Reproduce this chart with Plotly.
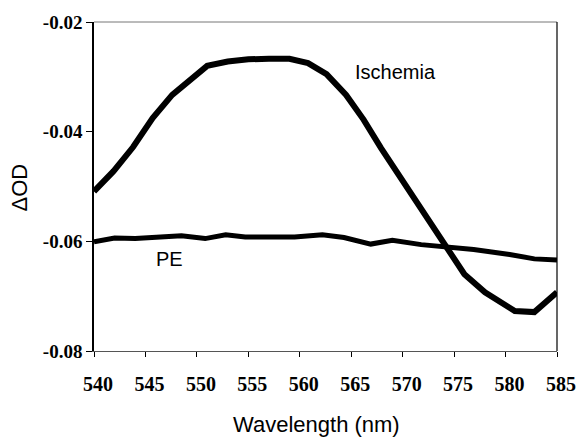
import plotly.graph_objects as go

# Difference spectra, wavelength in nm vs change in optical density
ischemia_nm = [540.0, 541.9, 543.8, 545.7, 547.6, 549.5, 551.0, 553.0, 555.0, 557.0,
               559.0, 560.8, 562.6, 564.5, 566.2, 567.9, 569.8, 571.8, 574.0, 576.0,
               578.0, 580.9, 582.8, 585.0]
ischemia_od = [-0.0509, -0.0472, -0.0428, -0.0375, -0.0333, -0.0302, -0.0280, -0.0272,
               -0.0268, -0.0267, -0.0267, -0.0275, -0.0295, -0.0333, -0.0378, -0.0430,
               -0.0485, -0.0542, -0.0605, -0.0660, -0.0693, -0.0727, -0.0729, -0.0693]

pe_nm = [540.0, 542.0, 544.0, 546.0, 548.5, 550.8, 552.8, 554.7, 557.0, 559.5,
         562.2, 564.3, 566.9, 569.0, 571.8, 574.0, 576.9, 580.4, 582.8, 585.0]
pe_od = [-0.0601, -0.0594, -0.0595, -0.0593, -0.0590, -0.0595, -0.0588, -0.0592,
         -0.0592, -0.0592, -0.0588, -0.0593, -0.0605, -0.0598, -0.0606, -0.0610,
         -0.0615, -0.0624, -0.0632, -0.0634]

x_ticks = [540, 545, 550, 555, 560, 565, 570, 575, 580, 585]
y_ticks = [-0.08, -0.06, -0.04, -0.02]
y_tick_text = ["-0.08", "-0.06", "-0.04", "-0.02"]

fig = go.Figure()
fig.add_trace(go.Scatter(x=ischemia_nm, y=ischemia_od, mode="lines",
                         line=dict(color="black", width=6), showlegend=False))
fig.add_trace(go.Scatter(x=pe_nm, y=pe_od, mode="lines",
                         line=dict(color="black", width=5), showlegend=False))

label_font = dict(family="Liberation Sans", size=20, color="black")

fig.update_layout(
    width=588, height=439,
    margin=dict(l=94, r=23, t=20, b=88),
    plot_bgcolor="white", paper_bgcolor="white",
    xaxis=dict(range=[540, 585], tickvals=x_ticks, ticks="outside", ticklen=5,
               tickcolor="black", showgrid=False, zeroline=False,
               showline=True, linecolor="#555", linewidth=1,
               tickfont=dict(family="Liberation Serif", size=20, color="black",
                             weight="bold"),
               ticklabelstandoff=10, ticklabelshift=4),
    yaxis=dict(range=[-0.08, -0.02], tickvals=y_ticks, ticktext=y_tick_text,
               ticks="outside", ticklen=6, tickcolor="black",
               showgrid=False, zeroline=False,
               showline=True, linecolor="black", linewidth=1.5,
               tickfont=dict(family="Liberation Serif", size=19, color="black",
                             weight="bold"),
               ticklabelstandoff=0),
    annotations=[
        dict(x=569.3, y=-0.0291, xref="x", yref="y", text="Ischemia",
             showarrow=False, font=label_font),
        dict(x=547.3, y=-0.0633, xref="x", yref="y", text="PE",
             showarrow=False, font=label_font),
        dict(x=(320 - 94) / 471, y=-(425 - 351) / 331, xref="paper", yref="paper",
             xanchor="center", yanchor="middle",
             text="Wavelength (nm)", showarrow=False,
             font=dict(family="Liberation Sans", size=22, color="black")),
        dict(x=(18 - 94) / 471, y=0.498, xref="paper", yref="paper",
             xanchor="center", yanchor="middle",
             text="ΔOD", textangle=-90, showarrow=False,
             font=dict(family="Liberation Sans", size=22, color="black")),
    ],
    shapes=[
        dict(type="line", xref="paper", yref="paper", x0=0, x1=1, y0=1, y1=1,
             line=dict(color="#777", width=1)),
        dict(type="line", xref="paper", yref="paper", x0=1, x1=1, y0=0, y1=1,
             line=dict(color="black", width=1.2)),
    ],
)

fig.write_html("out.html")
